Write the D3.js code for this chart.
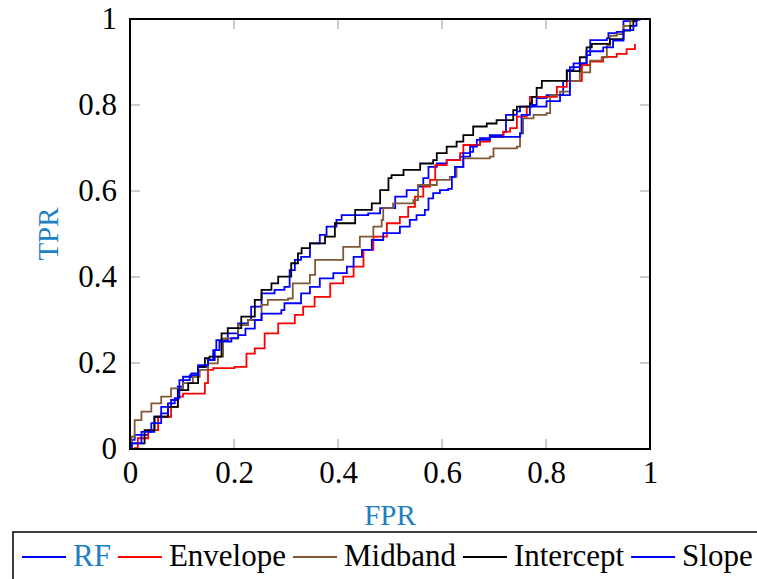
<!DOCTYPE html>
<html>
<head>
<meta charset="utf-8">
<script src="https://cdn.jsdelivr.net/npm/d3@7"></script>
<style>
  html, body { margin: 0; padding: 0; background: #fff; }
  svg { display: block; }
  svg text { font-family: "Liberation Serif", "Tinos", "DejaVu Serif", serif !important; }
</style>
</head>
<body>
<svg id="chart" width="757" height="579"></svg>
<script>
// ROC curves, each a list of [FPR, TPR] vertices
const rfPoints = [[0,0],[0.003,0.021],[0.009,0.033],[0.035,0.040],[0.047,0.075],[0.060,0.098],[0.079,0.114],[0.092,0.145],[0.102,0.168],[0.118,0.176],[0.131,0.191],[0.150,0.207],[0.160,0.230],[0.166,0.253],[0.188,0.269],[0.208,0.292],[0.227,0.300],[0.233,0.331],[0.253,0.362],[0.278,0.370],[0.297,0.377],[0.307,0.416],[0.317,0.440],[0.329,0.447],[0.346,0.478],[0.365,0.498],[0.378,0.517],[0.397,0.533],[0.407,0.544],[0.458,0.548],[0.481,0.560],[0.503,0.560],[0.510,0.587],[0.532,0.602],[0.554,0.610],[0.564,0.630],[0.574,0.656],[0.590,0.664],[0.609,0.672],[0.635,0.680],[0.654,0.691],[0.660,0.707],[0.673,0.723],[0.692,0.730],[0.718,0.737],[0.723,0.777],[0.744,0.785],[0.750,0.796],[0.773,0.800],[0.782,0.816],[0.801,0.823],[0.833,0.856],[0.840,0.881],[0.853,0.897],[0.878,0.916],[0.885,0.951],[0.917,0.955],[0.920,0.967],[0.936,0.970],[0.949,0.995],[0.974,1.0]];

const envelopePoints = [[0,0],[0.009,0.002],[0.015,0.025],[0.035,0.044],[0.054,0.075],[0.079,0.098],[0.092,0.122],[0.102,0.129],[0.131,0.129],[0.144,0.153],[0.150,0.184],[0.160,0.188],[0.201,0.191],[0.224,0.222],[0.240,0.234],[0.259,0.269],[0.285,0.292],[0.317,0.312],[0.333,0.331],[0.355,0.354],[0.385,0.385],[0.410,0.401],[0.430,0.424],[0.449,0.463],[0.468,0.494],[0.494,0.525],[0.519,0.540],[0.535,0.563],[0.548,0.587],[0.564,0.610],[0.577,0.626],[0.587,0.660],[0.609,0.672],[0.635,0.688],[0.641,0.707],[0.673,0.715],[0.692,0.726],[0.718,0.738],[0.731,0.746],[0.744,0.773],[0.763,0.796],[0.769,0.819],[0.801,0.819],[0.821,0.842],[0.840,0.856],[0.869,0.893],[0.885,0.901],[0.910,0.912],[0.936,0.919],[0.955,0.930],[0.971,0.942]];

const midbandPoints = [[0,0],[0.003,0.029],[0.009,0.067],[0.022,0.087],[0.041,0.106],[0.060,0.122],[0.079,0.141],[0.102,0.153],[0.121,0.168],[0.134,0.184],[0.150,0.199],[0.169,0.215],[0.179,0.257],[0.208,0.288],[0.227,0.300],[0.253,0.335],[0.265,0.347],[0.304,0.350],[0.313,0.385],[0.346,0.405],[0.356,0.440],[0.404,0.440],[0.410,0.470],[0.442,0.494],[0.468,0.517],[0.484,0.533],[0.487,0.560],[0.506,0.571],[0.545,0.579],[0.554,0.614],[0.590,0.626],[0.615,0.633],[0.628,0.656],[0.641,0.676],[0.692,0.680],[0.699,0.699],[0.744,0.703],[0.750,0.734],[0.756,0.769],[0.776,0.777],[0.801,0.781],[0.808,0.823],[0.827,0.831],[0.846,0.856],[0.865,0.876],[0.885,0.903],[0.907,0.911],[0.917,0.938],[0.923,0.961],[0.936,0.965],[0.949,0.984],[0.962,0.995],[0.968,1.0]];

const interceptPoints = [[0,0],[0.003,0.013],[0.028,0.044],[0.047,0.075],[0.073,0.098],[0.092,0.137],[0.112,0.153],[0.131,0.191],[0.144,0.211],[0.153,0.215],[0.176,0.269],[0.188,0.281],[0.214,0.308],[0.227,0.308],[0.240,0.347],[0.253,0.370],[0.272,0.385],[0.285,0.401],[0.304,0.401],[0.310,0.432],[0.323,0.455],[0.330,0.467],[0.346,0.478],[0.375,0.494],[0.394,0.525],[0.433,0.556],[0.465,0.571],[0.481,0.602],[0.497,0.630],[0.503,0.637],[0.526,0.649],[0.558,0.664],[0.583,0.672],[0.590,0.688],[0.609,0.703],[0.628,0.715],[0.641,0.730],[0.660,0.750],[0.686,0.757],[0.705,0.765],[0.724,0.765],[0.737,0.788],[0.744,0.796],[0.769,0.804],[0.773,0.819],[0.782,0.840],[0.792,0.856],[0.827,0.856],[0.840,0.879],[0.865,0.911],[0.878,0.934],[0.888,0.942],[0.917,0.942],[0.923,0.953],[0.949,0.973],[0.962,0.984],[0.968,0.995],[0.974,1.0]];

const slopePoints = [[0,0],[0.003,0.013],[0.022,0.040],[0.041,0.060],[0.060,0.083],[0.073,0.106],[0.086,0.118],[0.095,0.160],[0.115,0.172],[0.131,0.195],[0.150,0.207],[0.163,0.230],[0.172,0.250],[0.195,0.258],[0.208,0.265],[0.222,0.280],[0.240,0.300],[0.253,0.315],[0.291,0.323],[0.297,0.339],[0.329,0.362],[0.346,0.377],[0.365,0.397],[0.391,0.409],[0.417,0.424],[0.430,0.447],[0.446,0.463],[0.465,0.486],[0.487,0.502],[0.519,0.517],[0.538,0.533],[0.551,0.544],[0.567,0.556],[0.574,0.583],[0.583,0.595],[0.596,0.602],[0.612,0.605],[0.619,0.633],[0.625,0.656],[0.641,0.688],[0.654,0.703],[0.667,0.719],[0.692,0.726],[0.750,0.734],[0.753,0.777],[0.769,0.796],[0.801,0.809],[0.827,0.823],[0.846,0.888],[0.865,0.897],[0.878,0.925],[0.910,0.934],[0.929,0.950],[0.949,0.974],[0.968,0.984],[0.974,0.998],[0.980,1.0]];

const seriesNames = ["RF", "Envelope", "Midband", "Intercept", "Slope"];
const seriesColors = ["#0000ff", "#ff0000", "#7d5a35", "#000000", "#0000ff"];
const seriesPoints = [rfPoints, envelopePoints, midbandPoints, interceptPoints, slopePoints];
const tickValues = [0, 0.2, 0.4, 0.6, 0.8, 1];
const tickLabels = ["0", "0.2", "0.4", "0.6", "0.8", "1"];
const labelColor = "#1d80c4";
const serif = "'Liberation Serif', 'Tinos', 'DejaVu Serif', serif";

const svg = d3.select("#chart");
const plot = { left: 130, right: 650, top: 19, bottom: 449 };

const x = d3.scaleLinear().domain([0, 1]).range([plot.left, plot.right]);
const y = d3.scaleLinear().domain([0, 1]).range([plot.bottom, plot.top]);
const fmt = v => tickLabels[tickValues.indexOf(v)];

// inner gray tick marks on all four sides
const tickLen = 10;
const tickG = svg.append("g").attr("stroke", "#a8a8a8").attr("stroke-width", 1.2);
tickValues.slice(1, -1).forEach(v => {
  tickG.append("line").attr("x1", x(v)).attr("x2", x(v)).attr("y1", plot.bottom).attr("y2", plot.bottom - tickLen);
  tickG.append("line").attr("x1", x(v)).attr("x2", x(v)).attr("y1", plot.top).attr("y2", plot.top + tickLen);
  tickG.append("line").attr("y1", y(v)).attr("y2", y(v)).attr("x1", plot.left).attr("x2", plot.left + tickLen);
  tickG.append("line").attr("y1", y(v)).attr("y2", y(v)).attr("x1", plot.right).attr("x2", plot.right - tickLen);
});

// curves
const line = d3.line()
  .x(d => x(d[0]))
  .y(d => y(d[1]))
  .curve(d3.curveStepAfter);

svg.append("g").selectAll("path")
  .data(seriesPoints)
  .join("path")
  .attr("d", line)
  .attr("fill", "none")
  .attr("stroke", (d, i) => seriesColors[i])
  .attr("stroke-width", 1.8)
  .attr("stroke-linejoin", "miter");

// axes: labels via d3 axis generators, frame drawn on top
const xAxis = d3.axisBottom(x).tickValues(tickValues).tickFormat(fmt).tickSize(0).tickPadding(12);
const yAxis = d3.axisLeft(y).tickValues(tickValues).tickFormat(fmt).tickSize(0).tickPadding(13);

const gx = svg.append("g").attr("transform", `translate(0,${plot.bottom})`).call(xAxis);
const gy = svg.append("g").attr("transform", `translate(${plot.left},0)`).call(yAxis);
[gx, gy].forEach(g => {
  g.attr("font-family", serif).attr("font-size", 31);
  g.select(".domain").remove();
  g.selectAll("text")
    .style("font-family", serif)
    .attr("font-size", 31)
    .attr("fill", "#000");
});

svg.append("rect")
  .attr("x", plot.left).attr("y", plot.top)
  .attr("width", plot.right - plot.left).attr("height", plot.bottom - plot.top)
  .attr("fill", "none").attr("stroke", "#000").attr("stroke-width", 2);

// axis titles
svg.append("text")
  .attr("x", (plot.left + plot.right) / 2).attr("y", 525)
  .attr("text-anchor", "middle").attr("font-size", 29).attr("fill", labelColor)
  .style("font-family", serif)
  .text("FPR");

svg.append("text")
  .attr("transform", `translate(58,${(plot.top + plot.bottom) / 2}) rotate(-90)`)
  .attr("text-anchor", "middle").attr("font-size", 29).attr("fill", labelColor)
  .style("font-family", serif)
  .text("TPR");

// legend
const legend = svg.append("g");
legend.append("rect")
  .attr("x", 13).attr("y", 532).attr("width", 770).attr("height", 70)
  .attr("fill", "#fff").attr("stroke", "#000").attr("stroke-width", 1.5);

let cx = 22;
const ly = 557;
seriesNames.forEach((name, i) => {
  legend.append("line")
    .attr("x1", cx).attr("x2", cx + 44).attr("y1", ly).attr("y2", ly)
    .attr("stroke", seriesColors[i]).attr("stroke-width", 1.8);
  const t = legend.append("text")
    .attr("x", cx + 51).attr("y", ly + 9)
    .attr("font-size", 31)
    .style("font-family", serif)
    .attr("fill", i === 0 ? labelColor : "#000")
    .text(name);
  cx = cx + 51 + t.node().getComputedTextLength() + 7;
});
</script>
</body>
</html>
